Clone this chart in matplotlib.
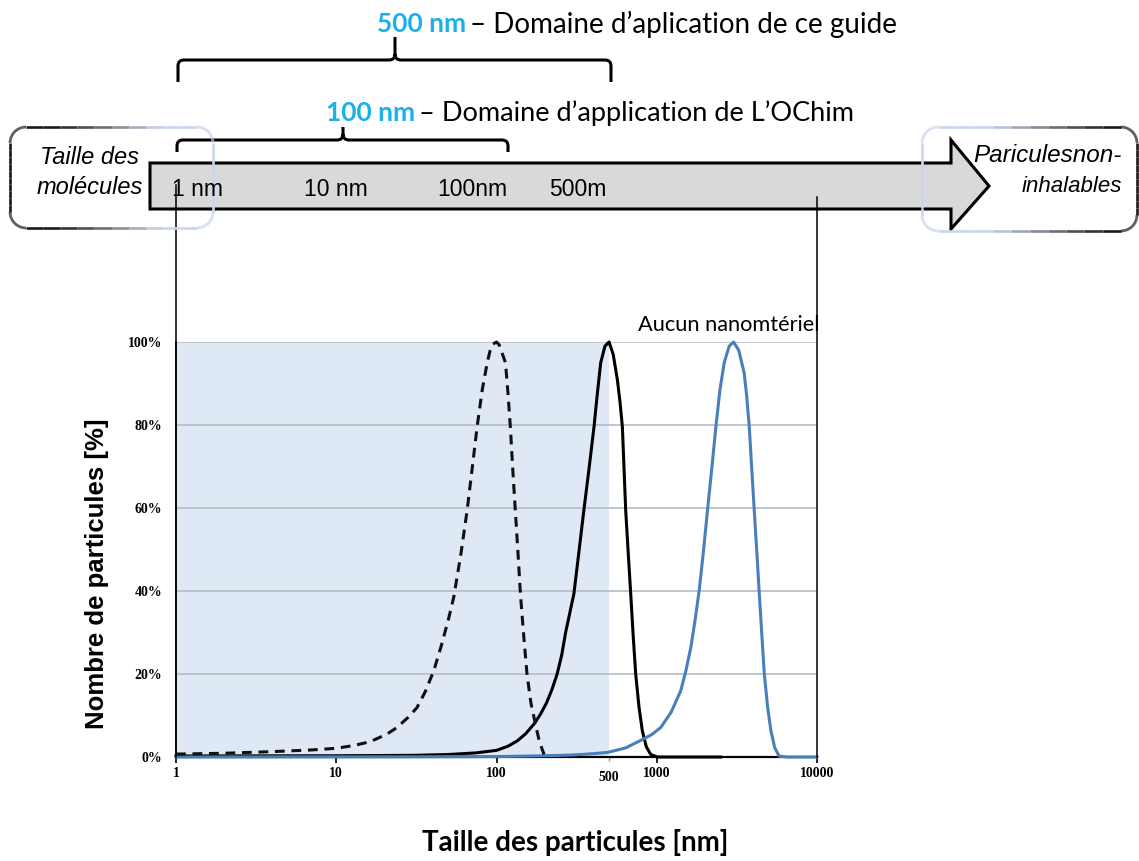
import matplotlib
matplotlib.use('Agg')
import matplotlib.pyplot as plt
import numpy as np
from matplotlib.patches import Polygon, PathPatch
from matplotlib.path import Path
from matplotlib.collections import LineCollection
from matplotlib.colors import to_rgba
from matplotlib.ticker import FixedLocator, FixedFormatter

# --- data ---
# dashed curve, centred on 100 nm
size_100 = [1, 2, 4, 7, 10, 13, 16.3, 20.7, 23.9, 28, 31.9, 36, 40.6, 45, 50, 54.1, 60,
            65.6, 70.5, 75.7, 81.5, 87.5, 91, 95, 100, 104, 108, 113.8, 118, 122, 126,
            131, 136, 141, 148, 155, 164, 175, 185, 198]
pct_100 = [0.7, 0.9, 1.3, 1.7, 2.1, 2.8, 3.7, 5.5, 7.1, 9.5, 11.9, 15.8, 20.8, 26.5, 33,
           38.5, 49, 59.5, 69.5, 79.6, 88.5, 95, 97.8, 99.5, 100, 99.3, 97.5, 95, 87.5,
           79.6, 70, 59.5, 49.5, 39.3, 29, 20, 13, 7.9, 3.8, 0.6]

# solid black curve, centred on 500 nm
size_500 = [1, 10, 30, 50, 75, 100, 118, 135, 152, 171, 188, 205, 222, 239, 255, 270,
            287, 304, 327, 351, 378, 406, 427, 447, 475, 504, 535, 568, 590, 610, 625,
            640, 663, 688, 712, 739, 775, 813, 860, 917, 1010, 2500]
pct_500 = [0.25, 0.3, 0.4, 0.6, 1.0, 1.6, 2.6, 3.9, 5.6, 7.9, 10.3, 13, 16.3, 20, 24.5,
           30, 34.8, 39.3, 49.5, 59.5, 69.5, 79.6, 88, 95, 99, 100, 97, 90.9, 85.5, 79.6,
           69.5, 59.5, 49.5, 39.3, 29.5, 20, 12, 6.3, 2.5, 0.6, 0, 0]

# blue curve, no nanomaterial
size_big = [1, 30, 100, 200, 304, 400, 493, 640, 794, 930, 1059, 1230, 1413, 1520, 1632,
            1735, 1840, 1955, 2074, 2205, 2339, 2480, 2636, 2830, 3015, 3250, 3513, 3640,
            3778, 3915, 4058, 4210, 4364, 4525, 4690, 4920, 5159, 5450, 5807, 6500, 10000]
pct_big = [0, 0.05, 0.1, 0.3, 0.5, 0.8, 1.1, 2.2, 4, 5.4, 7.1, 10.8, 16, 20.8, 26.4,
           33, 40.1, 49.5, 59.5, 69.5, 79.6, 88.5, 95, 99, 100, 98, 92.5, 87, 79.6, 69.5,
           59.5, 49.5, 39.3, 29.5, 20, 12, 6.3, 2.2, 0.2, 0, 0]

x_ticks = [1, 10, 100, 1000, 10000]
x_tick_labels = ['1', '10', '100', '1000', '10000']
y_ticks = [0, 20, 40, 60, 80, 100]
y_tick_labels = ['0%', '20%', '40%', '60%', '80%', '100%']
guide_limit = 500
scale_marks = ['1 nm', '10 nm', '100nm', '500m']
scale_marks_x = [172, 304, 437, 549]

W, H = 1139, 861
fig = plt.figure(figsize=(W / 100, H / 100), dpi=100)

# --- main chart ---
ax = fig.add_axes([176 / W, 1 - 757 / H, 641 / W, 415 / H])
ax.set_xscale('log')
ax.set_xlim(1, 10000)
ax.set_ylim(0, 100)

ax.axvspan(1, guide_limit, color='#dfe8f5', zorder=0, lw=0)
for v in y_ticks[1:]:
    ax.axhline(v, color='#b9c0c8', lw=1.3, zorder=0.5)

ax.plot(size_500, pct_500, color='black', lw=2.2, zorder=3, clip_on=False,
        solid_joinstyle='round')
ax.plot(size_big, pct_big, color='#4a7ebb', lw=2.2, zorder=3.5, clip_on=False,
        solid_joinstyle='round')
ax.plot(size_100, pct_100, color='#111111', lw=2.2, ls=(0, (3.2, 2.2)), zorder=4,
        clip_on=False)

ax.xaxis.set_major_locator(FixedLocator(x_ticks))
ax.xaxis.set_major_formatter(FixedFormatter(x_tick_labels))
ax.xaxis.set_minor_locator(FixedLocator([guide_limit]))
ax.xaxis.set_minor_formatter(FixedFormatter([str(guide_limit)]))
ax.set_yticks(y_ticks)
ax.set_yticklabels(y_tick_labels)

for lab in ax.get_xticklabels() + ax.get_yticklabels() + ax.get_xticklabels(minor=True):
    lab.set_fontfamily('Liberation Serif')
    lab.set_fontweight('bold')
    lab.set_fontsize(10)
ax.tick_params(axis='x', which='major', length=4, width=1.2, pad=3, direction='out')
ax.tick_params(axis='x', which='minor', length=3, width=1, color='#999999', pad=7)
ax.tick_params(axis='y', length=0, pad=10)

for s in ['top', 'right']:
    ax.spines[s].set_visible(False)
ax.spines['left'].set_color('#222222')
ax.spines['left'].set_linewidth(1.3)
ax.spines['bottom'].set_linewidth(1.6)

ax.set_ylabel('Nombre de particules [%]', family='Liberation Sans', weight='bold',
              fontsize=18.5, va='center', ha='center')
ax.yaxis.set_label_coords(-0.123, 0.441)
ax.set_xlabel('Taille des particules [nm]', family='Lato', weight='bold', fontsize=20,
              va='center', ha='center')
ax.xaxis.set_label_coords(0.622, -0.205)

# --- diagram above the chart (pixel coordinates) ---
ov = fig.add_axes([0, 0, 1, 1], zorder=5)
ov.set_xlim(0, W)
ov.set_ylim(H, 0)
ov.axis('off')
ov.patch.set_alpha(0)

arrow = Polygon([(150, 163), (951, 163), (951, 140), (989, 186), (951, 229), (951, 209),
                 (150, 209)], closed=True, facecolor='#d9d9d9', edgecolor='black', lw=2.2)
ov.add_patch(arrow)

for lab, x in zip(scale_marks, scale_marks_x):
    ov.text(x, 190, lab, family='Liberation Sans', fontsize=16.5, ha='left', va='center')

# limits of the chart drawn up into the arrow
ov.plot([176, 176], [185, 757], color='black', lw=1.1)
ov.plot([817, 817], [197, 757], color='black', lw=1.1)


def rounded_rect(x0, y0, x1, y1, r, n=12):
    pts = []
    corners = [(x1 - r, y0 + r, -90, 0), (x1 - r, y1 - r, 0, 90),
               (x0 + r, y1 - r, 90, 180), (x0 + r, y0 + r, 180, 270)]
    for cx, cy, a0, a1 in corners:
        for a in np.linspace(np.radians(a0), np.radians(a1), n):
            pts.append((cx + r * np.cos(a), cy + r * np.sin(a)))
    pts.append(pts[0])
    return np.array(pts)


def fade_box(x0, y0, x1, y1, dark_at, light_at):
    pts = rounded_rect(x0, y0, x1, y1, 16)
    dense = []
    for a, b in zip(pts[:-1], pts[1:]):
        for t in np.linspace(0, 1, 10, endpoint=False):
            dense.append(a + (b - a) * t)
    dense.append(pts[-1])
    dense = np.array(dense)
    segs = np.stack([dense[:-1], dense[1:]], axis=1)
    mid = segs.mean(axis=1)[:, 0]
    t = np.clip((mid - dark_at) / (light_at - dark_at), 0, 1)
    dark = np.array(to_rgba('#1a1a1a'))
    light = np.array(to_rgba('#c9d7ec'))
    cols = dark[None, :] * (1 - t[:, None]) + light[None, :] * t[:, None]
    ov.add_collection(LineCollection(segs, colors=cols, lw=1.9))


fade_box(10, 127, 213, 228, 55, 160)
fade_box(922, 127, 1137, 231, 1110, 990)

ov.text(90, 157, 'Taille des', family='Liberation Sans', style='italic', fontsize=17,
        ha='center', va='center')
ov.text(90, 188, 'molécules', family='Liberation Sans', style='italic', fontsize=17,
        ha='center', va='center')
ov.text(1122, 156, 'Pariculesnon-', family='Liberation Sans', style='italic', fontsize=17.5,
        ha='right', va='center')
ov.text(1122, 187, 'inhalables', family='Liberation Sans', style='italic', fontsize=16,
        ha='right', va='center')


def brace(x0, x1, xc, y_bar, y_end, y_tip, r=6):
    verts = [(x0, y_end), (x0, y_bar + r), (x0, y_bar), (x0 + r, y_bar),
             (xc - r, y_bar), (xc, y_bar), (xc, y_bar - r), (xc, y_tip),
             (xc, y_bar - r), (xc, y_bar), (xc + r, y_bar),
             (x1 - r, y_bar), (x1, y_bar), (x1, y_bar + r), (x1, y_end)]
    codes = [Path.MOVETO, Path.LINETO, Path.CURVE3, Path.CURVE3,
             Path.LINETO, Path.CURVE3, Path.CURVE3, Path.LINETO,
             Path.MOVETO, Path.CURVE3, Path.CURVE3,
             Path.LINETO, Path.CURVE3, Path.CURVE3, Path.LINETO]
    ov.add_patch(PathPatch(Path(verts, codes), fill=False, lw=2.2, edgecolor='black',
                           capstyle='butt', joinstyle='round'))


brace(178, 611, 395, 60, 82, 37)
brace(177, 508, 343, 140, 152, 127)

cyan = '#1ab0ea'
ov.text(377, 24, '500 nm', family='Lato', weight='bold', color=cyan, fontsize=19,
        ha='left', va='center')
ov.text(470, 24, '– Domaine d’aplication de ce guide', family='Lato', fontsize=20,
        ha='left', va='center')
ov.text(326, 113, '100 nm', family='Lato', weight='bold', color=cyan, fontsize=19,
        ha='left', va='center')
ov.text(419, 113, '– Domaine d’application de L’OChim', family='Lato', fontsize=19.5,
        ha='left', va='center')

ov.text(820, 325, 'Aucun nanomtériel', family='Lato', fontsize=15.7, ha='right', va='center')

fig.savefig('out.png', dpi=100)
